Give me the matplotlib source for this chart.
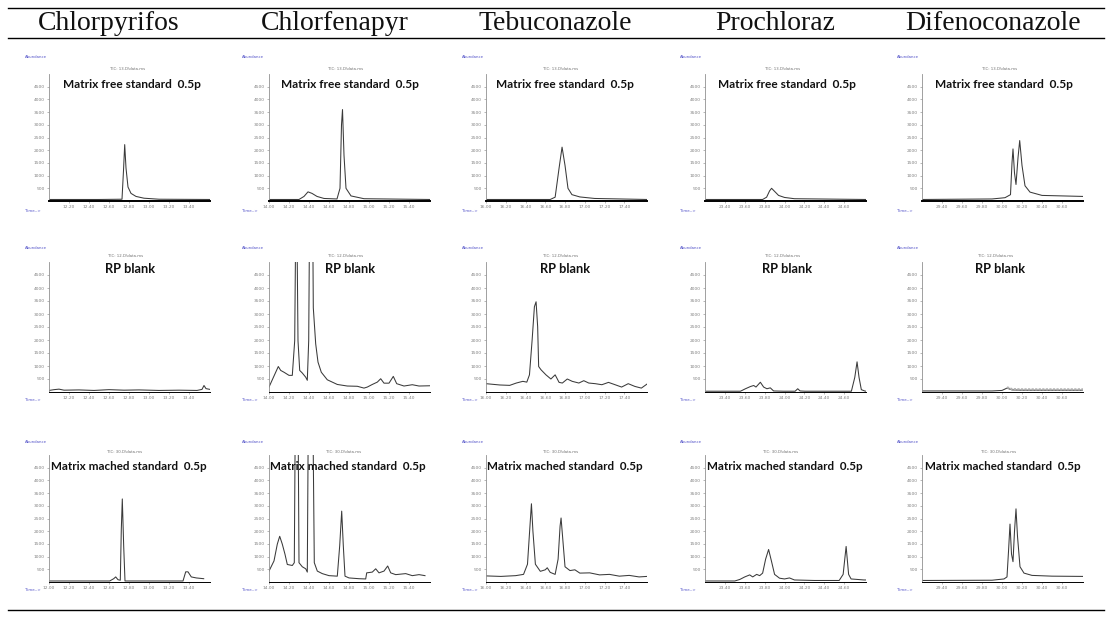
import matplotlib
matplotlib.use("Agg")
import matplotlib.pyplot as plt
from matplotlib.lines import Line2D

# ---------------- data ----------------
compounds = ["Chlorpyrifos", "Chlorfenapyr", "Tebuconazole", "Prochloraz", "Difenoconazole"]
row_titles = ["Matrix free standard  0.5p", "RP blank", "Matrix mached standard  0.5p"]
tic_labels = ["TIC: 13.D\\data.ms", "TIC: 12.D\\data.ms", "TIC: 30.D\\data.ms"]

x_limits = [(12.0, 13.61), (14.0, 15.61), (16.0, 17.63), (23.2, 24.82), (29.2, 30.81)]
x_ticks_r0 = [[12.2, 12.4, 12.6, 12.8, 13.0, 13.2, 13.4],
              [14.0, 14.2, 14.4, 14.6, 14.8, 15.0, 15.2, 15.4],
              [16.0, 16.2, 16.4, 16.6, 16.8, 17.0, 17.2, 17.4],
              [23.4, 23.6, 23.8, 24.0, 24.2, 24.4, 24.6],
              [29.4, 29.6, 29.8, 30.0, 30.2, 30.4, 30.6]]
x_ticks_r2_col0 = [12.0, 12.2, 12.4, 12.6, 12.8, 13.0, 13.2, 13.4]
y_ticks = [500, 1000, 1500, 2000, 2500, 3000, 3500, 4000, 4500]

# Row 0 : matrix free standard
t_r0c0 = [12.00, 12.50, 12.73, 12.745, 12.757, 12.77, 12.79, 12.82, 12.87, 12.95, 13.10, 13.61]
a_r0c0 = [60, 60, 70, 1200, 2220, 1300, 550, 300, 180, 110, 70, 60]
t_r0c1 = [14.00, 14.30, 14.35, 14.39, 14.43, 14.48, 14.55, 14.68, 14.71, 14.725, 14.735, 14.75, 14.77, 14.82, 14.95, 15.61]
a_r0c1 = [60, 60, 180, 360, 300, 180, 100, 80, 500, 3000, 3600, 1800, 500, 200, 90, 60]
t_r0c2 = [16.00, 16.65, 16.70, 16.74, 16.77, 16.80, 16.83, 16.87, 16.95, 17.10, 17.63]
a_r0c2 = [60, 60, 150, 1300, 2120, 1400, 500, 250, 160, 100, 60]
t_r0c3 = [23.20, 23.78, 23.82, 23.85, 23.87, 23.90, 23.94, 24.00, 24.10, 24.82]
a_r0c3 = [60, 60, 150, 400, 500, 380, 220, 140, 90, 60]
t_r0c4 = [29.20, 29.90, 30.03, 30.085, 30.10, 30.11, 30.125, 30.14, 30.16, 30.177, 30.20, 30.23, 30.28, 30.40, 30.81]
a_r0c4 = [60, 80, 130, 250, 1500, 2050, 1100, 650, 1700, 2380, 1400, 600, 350, 220, 180]

# Row 1 : RP blank
t_r1c0 = [12.00, 12.05, 12.10, 12.15, 12.30, 12.45, 12.60, 12.75, 12.90, 13.10, 13.30, 13.48, 13.53, 13.55, 13.57, 13.61]
a_r1c0 = [60, 90, 110, 70, 80, 60, 90, 70, 80, 60, 70, 60, 100, 250, 130, 100]
t_r1c1 = [14.00, 14.093, 14.117, 14.15, 14.20, 14.233, 14.257, 14.273, 14.29, 14.307, 14.333, 14.367, 14.383,
          14.397, 14.41, 14.433, 14.443, 14.467, 14.49, 14.523, 14.583, 14.683, 14.783, 14.883, 14.95, 14.983,
          15.033, 15.083, 15.117, 15.15, 15.20, 15.243, 15.277, 15.35, 15.433, 15.50, 15.61]
a_r1c1 = [190, 980, 830, 760, 640, 640, 1970, 9000, 1970, 830, 730, 570, 450,
          1970, 9000, 9000, 3240, 1850, 1150, 760, 470, 290, 230, 220, 150, 190,
          290, 380, 510, 340, 340, 600, 320, 230, 280, 230, 240]
t_r1c2 = [16.00, 16.14, 16.24, 16.307, 16.373, 16.413, 16.44, 16.467, 16.49, 16.507, 16.523, 16.533, 16.557,
          16.607, 16.657, 16.70, 16.74, 16.773, 16.823, 16.873, 16.94, 16.99, 17.04, 17.107, 17.173, 17.24,
          17.307, 17.373, 17.44, 17.507, 17.573, 17.63]
a_r1c2 = [320, 270, 255, 345, 410, 380, 660, 2000, 3280, 3470, 2510, 980, 855,
          660, 500, 660, 370, 345, 500, 410, 345, 435, 345, 320, 280, 370,
          280, 190, 320, 215, 150, 305]
t_r1c3 = [23.20, 23.557, 23.607, 23.657, 23.69, 23.713, 23.757, 23.79, 23.823, 23.857, 23.89, 23.99, 24.107,
          24.133, 24.157, 24.207, 24.673, 24.707, 24.73, 24.75, 24.773, 24.807, 24.82]
a_r1c3 = [30, 30, 125, 210, 250, 190, 375, 190, 125, 160, 40, 30, 30,
          125, 40, 30, 30, 560, 1160, 560, 90, 40, 30]
t_r1c4 = [29.20, 29.90, 30.00, 30.05, 30.10, 30.20, 30.81]
a_r1c4 = [40, 40, 60, 150, 80, 70, 70]

# Row 2 : matrix matched standard
t_r2c0 = [12.00, 12.607, 12.647, 12.667, 12.69, 12.713, 12.723, 12.733, 12.747, 12.76, 13.34, 13.367, 13.39,
          13.423, 13.473, 13.547]
a_r2c0 = [40, 40, 130, 200, 90, 70, 2070, 3270, 1400, 40, 40, 400, 400, 200, 160, 130]
t_r2c1 = [14.00, 14.05, 14.083, 14.107, 14.133, 14.16, 14.183, 14.233, 14.253, 14.267, 14.287, 14.30, 14.333,
          14.367, 14.383, 14.397, 14.433, 14.453, 14.483, 14.533, 14.60, 14.683, 14.707, 14.727, 14.743, 14.76,
          14.80, 14.90, 14.967, 14.977, 15.033, 15.067, 15.10, 15.15, 15.187, 15.217, 15.267, 15.367, 15.433,
          15.50, 15.56]
a_r2c1 = [430, 830, 1490, 1800, 1490, 1090, 690, 650, 760, 9000, 9000, 760, 600,
          520, 390, 9000, 9000, 760, 430, 330, 250, 230, 1430, 2790, 1430, 230,
          160, 130, 120, 360, 390, 520, 360, 430, 630, 360, 290, 330, 250,
          290, 250]
t_r2c2 = [16.00, 16.15, 16.30, 16.38, 16.42, 16.445, 16.46, 16.475, 16.50, 16.55, 16.60, 16.62, 16.65, 16.70,
          16.73, 16.75, 16.76, 16.775, 16.80, 16.85, 16.90, 16.95, 17.05, 17.15, 17.25, 17.35, 17.45, 17.55, 17.63]
a_r2c2 = [240, 220, 250, 300, 700, 2200, 3080, 2000, 700, 420, 480, 560, 380, 300,
          900, 2200, 2520, 1800, 600, 450, 480, 350, 360, 280, 300, 230, 260, 200, 220]
t_r2c3 = [23.20, 23.50, 23.55, 23.60, 23.65, 23.68, 23.72, 23.75, 23.78, 23.81, 23.84, 23.87, 23.90, 23.95,
          24.00, 24.05, 24.10, 24.30, 24.55, 24.59, 24.62, 24.645, 24.67, 24.80, 24.82]
a_r2c3 = [40, 40, 100, 200, 280, 200, 300, 250, 350, 900, 1280, 800, 300, 150,
          120, 160, 80, 60, 60, 300, 1400, 300, 120, 80, 80]
t_r2c4 = [29.20, 29.90, 30.02, 30.05, 30.065, 30.08, 30.095, 30.11, 30.125, 30.14, 30.155, 30.18, 30.22, 30.30,
          30.50, 30.81]
a_r2c4 = [60, 70, 120, 200, 1200, 2280, 1100, 800, 2000, 2880, 1800, 600, 350, 260, 230, 220]

traces = [
    [(t_r0c0, a_r0c0), (t_r0c1, a_r0c1), (t_r0c2, a_r0c2), (t_r0c3, a_r0c3), (t_r0c4, a_r0c4)],
    [(t_r1c0, a_r1c0), (t_r1c1, a_r1c1), (t_r1c2, a_r1c2), (t_r1c3, a_r1c3), (t_r1c4, a_r1c4)],
    [(t_r2c0, a_r2c0), (t_r2c1, a_r2c1), (t_r2c2, a_r2c2), (t_r2c3, a_r2c3), (t_r2c4, a_r2c4)],
]

# ---------------- layout (pixels) ----------------
W, H = 1114, 625
fig = plt.figure(figsize=(W / 100, H / 100), dpi=100)
fig.patch.set_facecolor("white")

def fx(x):
    return x / W

def fy(y):
    return 1 - y / H

col_left = [49, 269, 486, 705, 922]
col_width = 161
row_top = [74, 262, 455]
row_bottom = [201, 392, 582]
header_x = [109, 335, 555, 775, 993]
title_x = [[132, 350, 565, 787, 1004], [130, 350, 565, 787, 1000], [129, 348, 565, 785, 1003]]
title_y = [84, 269, 466]
title_size = [8.6, 9.2, 8.4]
tic_y = [69, 256, 452]
abund_y = [57, 248, 442]
time_y = [211, 400, 590]
abund_x = [25, 242, 462, 680, 897]

# header lines and text
for yl in (8, 38, 610):
    fig.add_artist(Line2D([fx(8), fx(1104)], [fy(yl), fy(yl)], color="black", lw=1.0))
for c, name in enumerate(compounds):
    fig.text(fx(header_x[c]), fy(23), name, ha="center", va="center",
             fontsize=20, family="Liberation Serif", color="#111111")

blue = "#5050c8"
for r in range(3):
    for c in range(5):
        ax = fig.add_axes([fx(col_left[c]), fy(row_bottom[r]), fx(col_width),
                           (row_bottom[r] - row_top[r]) / H])
        t, a = traces[r][c]
        ax.plot(t, a, color="#3a3a3a", lw=0.75)
        if r == 1 and c == 4:
            ax.plot(t[3:], [v + 30 for v in a[3:]], color="#b0b0b0", lw=1.6, ls=(0, (1, 0.6)))
        ax.set_xlim(*x_limits[c])
        ax.set_ylim(0, 5000)
        xt = x_ticks_r2_col0 if (r == 2 and c == 0) else x_ticks_r0[c]
        ax.set_xticks(xt)
        ax.set_xticklabels([f"{v:.2f}" for v in xt])
        ax.set_yticks(y_ticks)
        ax.set_yticklabels([str(v) for v in y_ticks])
        ax.tick_params(labelsize=3.2, length=1.5, width=0.4, colors="#808080", pad=1.5)
        for s in ("top", "right"):
            ax.spines[s].set_visible(False)
        ax.spines["left"].set_color("#909090")
        ax.spines["left"].set_linewidth(0.6)
        ax.spines["bottom"].set_color("black")
        ax.spines["bottom"].set_linewidth(1.4 if r == 0 else 0.7)
        ax.patch.set_alpha(0)

        fig.text(fx(title_x[r][c]), fy(title_y[r]), row_titles[r], ha="center", va="center",
                 fontsize=title_size[r], family="Lato", fontweight="bold", color="#111111")
        fig.text(fx(title_x[r][c] - 4), fy(tic_y[r]), tic_labels[r], ha="center", va="center",
                 fontsize=2.8, color="#707070")
        fig.text(fx(abund_x[c]), fy(abund_y[r]), "Abundance", ha="left", va="center",
                 fontsize=2.8, color=blue)
        fig.text(fx(abund_x[c]), fy(time_y[r]), "Time-->", ha="left", va="center",
                 fontsize=2.8, color=blue)

fig.savefig("out.png", dpi=100, facecolor="white")
